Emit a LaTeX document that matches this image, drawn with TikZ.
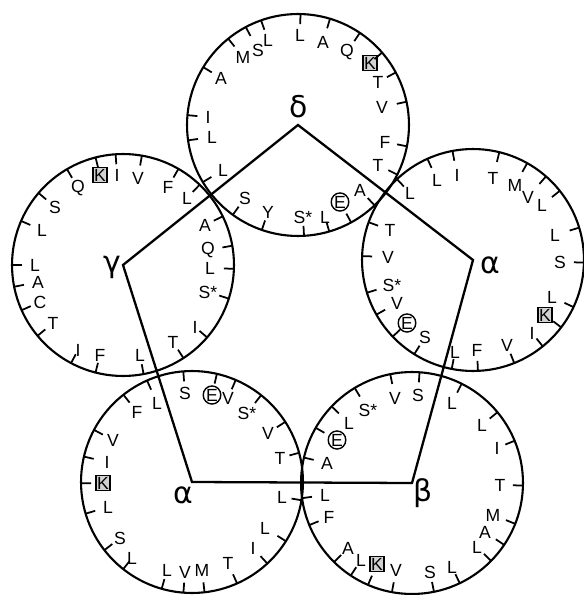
\documentclass[tikz,border=0pt]{standalone}
\usepackage{amsmath,amssymb}
\usepackage{fontspec}
\setsansfont{Liberation Sans}
\newfontfamily\greekfont{DejaVu Sans}
\usepackage{tikz}
\usetikzlibrary{calc,shapes.geometric}

\begin{document}
\begin{tikzpicture}[x=0.02cm,y=-0.02cm,
    wheel/.style={line width=1.2pt},
    edge/.style={line width=1.3pt},
    tick/.style={line width=1pt},
    res/.style={font=\sffamily\fontsize{10}{12}\selectfont,inner sep=0pt},
    boxed/.style={res,draw,fill=gray!35,line width=1pt,inner sep=0.8pt},
    ringed/.style={res,draw,ellipse,line width=0.8pt,inner sep=0.2pt},
    helix/.style={font=\greekfont\fontsize{17}{20}\selectfont}]
  \useasboundingbox (0,0) rectangle (584,595);

  % helix axes
  \coordinate (d) at (298,125);
  \coordinate (a1) at (473,260);
  \coordinate (b) at (412,483);
  \coordinate (a2) at (192,482);
  \coordinate (g) at (123,265);

  \foreach \c in {d,a1,b,a2,g}
    \draw[wheel] (\c) circle[radius=2.22cm];

  \draw[edge] (d) -- (a1) -- (b) -- (a2) -- (g) -- cycle;

  % delta wheel
  \foreach \x/\y/\lab/\sty [count=\i] in {221/78/A/res, 243/57/M/res, 258/50/S/res,
      268/40/L/res, 300/35/L/res, 323/42/A/res, 347/52/Q/res, 370/63/K/boxed,
      378/82/T/res, 382/107/V/res, 385/142/F/res, 378/165/T/res, 360/190/A/res,
      340/202/E/ringed, 325/217/L/res, 303/217/S*/res, 268/212/Y/res, 245/198/S/res,
      223/170/L/res, 212/137/L/res, 208/117/I/res}{
    \node[\sty] (d-\i) at (\x,\y) {\lab};
    \draw[tick] ($(d)!2.22cm!(d-\i)$) -- ($(d)!2.02cm!(d-\i)$);
  }

  % right alpha wheel
  \foreach \x/\y/\lab/\sty [count=\i] in {437/180/L/res, 457/175/I/res, 493/178/T/res,
      515/185/M/res, 528/197/V/res, 542/205/L/res, 555/235/L/res, 560/262/S/res,
      552/297/L/res, 545/315/K/boxed, 532/333/I/res, 507/345/V/res, 477/350/F/res,
      455/352/L/res, 425/337/S/res, 407/323/E/ringed, 397/303/V/res, 392/285/S*/res,
      388/257/V/res, 390/230/T/res, 410/193/L/res}{
    \node[\sty] (a1-\i) at (\x,\y) {\lab};
    \draw[tick] ($(a1)!2.22cm!(a1-\i)$) -- ($(a1)!2.02cm!(a1-\i)$);
  }

  % beta wheel
  \foreach \x/\y/\lab/\sty [count=\i] in {452/403/L/res, 482/425/L/res, 497/448/I/res,
      500/485/T/res, 493/515/M/res, 485/532/A/res, 477/547/L/res, 452/567/L/res,
      430/572/S/res, 396/570/V/res, 377/564/K/boxed, 361/560/L/res, 348/548/A/res,
      329/517/F/res, 325/495/L/res, 327/463/A/res, 337/440/E/ringed, 349/423/L/res,
      368/410/S*/res, 395/398/V/res, 418/395/S/res}{
    \node[\sty] (b-\i) at (\x,\y) {\lab};
    \draw[tick] ($(b)!2.22cm!(b-\i)$) -- ($(b)!2.02cm!(b-\i)$);
  }

  % lower alpha wheel
  \foreach \x/\y/\lab/\sty [count=\i] in {157/403/L/res, 185/393/S/res, 212/395/E/ringed,
      228/398/V/res, 247/413/S*/res, 268/433/V/res, 280/458/T/res, 282/497/L/res,
      265/528/L/res, 253/548/I/res, 228/563/T/res, 202/570/M/res, 185/572/V/res,
      167/570/L/res, 132/558/L/res, 120/538/S/res, 108/507/L/res, 103/483/K/boxed,
      107/462/I/res, 113/440/V/res, 137/412/F/res}{
    \node[\sty] (a2-\i) at (\x,\y) {\lab};
    \draw[tick] ($(a2)!2.22cm!(a2-\i)$) -- ($(a2)!2.02cm!(a2-\i)$);
  }

  % gamma wheel
  \foreach \x/\y/\lab/\sty [count=\i] in {100/175/K/boxed, 117/175/I/res, 138/178/V/res,
      168/187/F/res, 187/198/L/res, 208/250/Q/res, 205/225/A/res, 210/268/L/res,
      208/292/S*/res, 195/327/I/res, 173/342/T/res, 140/355/L/res, 100/355/F/res,
      78/350/I/res, 53/323/T/res, 40/302/C/res, 38/282/A/res, 35/265/L/res,
      42/230/L/res, 55/207/S/res, 78/188/Q/res}{
    \node[\sty] (g-\i) at (\x,\y) {\lab};
    \draw[tick] ($(g)!2.22cm!(g-\i)$) -- ($(g)!2.02cm!(g-\i)$);
  }

  % helix names
  \node[helix] (dlab) at (299,107) {δ};
  \node[helix] (a1lab) at (490,265) {α};
  \node[helix] (blab) at (423,493) {β};
  \node[helix] (a2lab) at (183,495) {α};
  \node[helix] (glab) at (112,267) {γ};
\end{tikzpicture}
\end{document}
